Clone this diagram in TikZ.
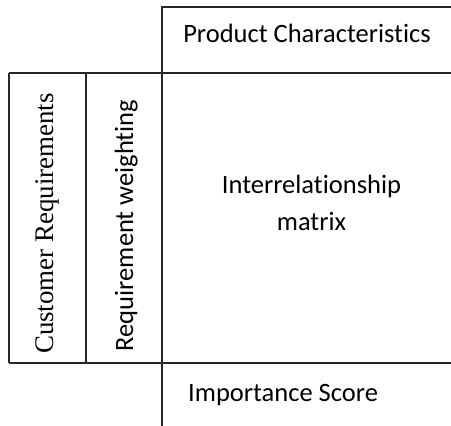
\documentclass[tikz,border=0pt]{standalone}
\usepackage{fontspec}
\setmainfont{Carlito}[Ligatures=NoCommon]
\newfontfamily\tnrfont{Liberation Serif}

\begin{document}
\begin{tikzpicture}[
        x=1pt, y=-1pt,
        % Linee della griglia: nere, spessore unico
        rule/.style={
            draw=black!85,
            line width=1.2pt
        },
        txt/.style={
            inner sep=0pt,
            font=\fontsize{26.5}{37.5}\selectfont
        },
        vtxt/.style={
            txt,
            rotate=90,
            anchor=base
        }
    ]

    \useasboundingbox (0,0) rectangle (451,426);

    % --- Griglia ---
    \draw[rule] (162,426) -- (162,7) -- (452,7);
    \draw[rule] (9,73) -- (452,73);
    \draw[rule] (9,363) -- (452,363);
    \draw[rule] (9,73) -- (9,363);
    \draw[rule] (86,73) -- (86,363);

    % --- Testi ---
    \node[txt, anchor=base] (prodchar) at (307,42.5) {Product Characteristics};
    % base = linea di base dell'ultima riga
    \node[txt, align=center, anchor=base] (relmatrix) at (311.5,230.5) {Interrelationship\\matrix};
    \node[txt, anchor=base west] (score) at (188,401) {Importance Score};

    % Colonne verticali a sinistra
    \node[vtxt, font={\tnrfont\fontsize{26.9}{32}\selectfont}] (custreq) at (53,223.5) {Customer Requirements};
    \node[vtxt] (weight) at (133,225.5) {Requirement weighting};

\end{tikzpicture}
\end{document}
